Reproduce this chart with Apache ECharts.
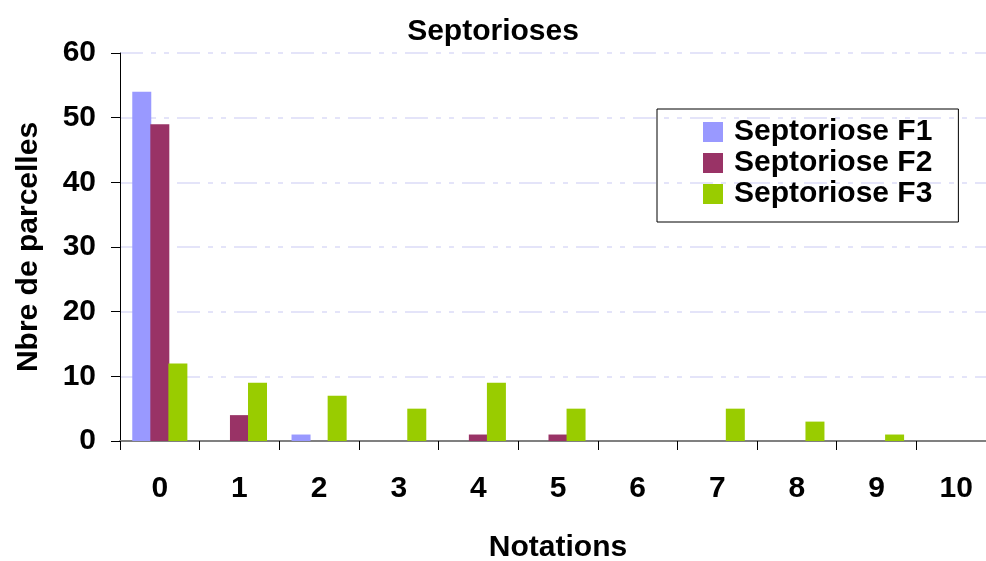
<!DOCTYPE html>
<html>
<head>
<meta charset="utf-8">
<script src="https://cdn.jsdelivr.net/npm/echarts@6/dist/echarts.min.js"></script>
<style>html,body{margin:0;padding:0;background:#fff;}#c{width:986px;height:561px;}</style>
</head>
<body>
<div id="c"></div>
<script>
const categories = ['0','1','2','3','4','5','6','7','8','9','10'];
const seriesNames = ['Septoriose F1','Septoriose F2','Septoriose F3'];
const f1 = [54, 0, 1, 0, 0, 0, 0, 0, 0, 0, 0];
const f2 = [49, 4, 0, 0, 1, 1, 0, 0, 0, 0, 0];
const f3 = [12, 9, 7, 5, 9, 5, 0, 5, 3, 1, 0];
const colors = ['#9999FF', '#993366', '#99CC00'];
const FONT = '"Liberation Sans", Arial, sans-serif';

const chart = echarts.init(document.getElementById('c'), null, {renderer: 'canvas'});
const values = [f1, f2, f3];
chart.setOption({
  animation: false,
  title: {
    text: 'Septorioses', left: 'center', top: 12,
    textStyle: {fontFamily: FONT, fontWeight: 'bold', fontSize: 30, color: '#000'}
  },
  legend: {
    orient: 'vertical', left: 657, top: 109,
    padding: [8, 26, 13, 46], itemGap: 1,
    itemWidth: 20, itemHeight: 20, icon: 'rect',
    borderColor: '#000', borderWidth: 1,
    textStyle: {fontFamily: FONT, fontWeight: 'bold', fontSize: 30, color: '#000', padding: [0, 0, 0, 6]},
    data: seriesNames
  },
  grid: {left: 120, top: 53, width: 876, height: 388, containLabel: false, outerBoundsMode: 'none'},
  xAxis: {
    type: 'category', data: categories,
    name: 'Notations', nameLocation: 'middle', nameGap: 92,
    nameTextStyle: {fontFamily: FONT, fontWeight: 'bold', fontSize: 30, color: '#000'},
    axisLine: {lineStyle: {color: '#808080', width: 2}},
    axisTick: {show: true, length: 9, interval: 0, lineStyle: {color: '#000', width: 1}},
    axisLabel: {margin: 33, interval: 0, fontFamily: FONT, fontWeight: 'bold', fontSize: 30, color: '#000'},
    splitLine: {show: false}
  },
  yAxis: {
    type: 'value', min: 0, max: 60, interval: 10,
    name: 'Nbre de parcelles', nameLocation: 'middle', nameGap: 76, nameRotate: 90,
    nameTextStyle: {fontFamily: FONT, fontWeight: 'bold', fontSize: 30, color: '#000'},
    axisLine: {show: true, lineStyle: {color: '#000', width: 1}},
    axisTick: {show: true, length: 9, lineStyle: {color: '#000', width: 1}},
    axisLabel: {margin: 24, fontFamily: FONT, fontWeight: 'bold', fontSize: 30, color: '#000'},
    splitLine: {show: true, lineStyle: {color: '#DCDCF8', width: 1.5, type: [23, 8, 5, 8, 5, 8]}}
  },
  series: seriesNames.map((n, i) => ({
    name: n, type: 'bar', data: values[i], barWidth: 19, barGap: '-5%',
    itemStyle: {color: colors[i]}
  }))
});
</script>
</body>
</html>
